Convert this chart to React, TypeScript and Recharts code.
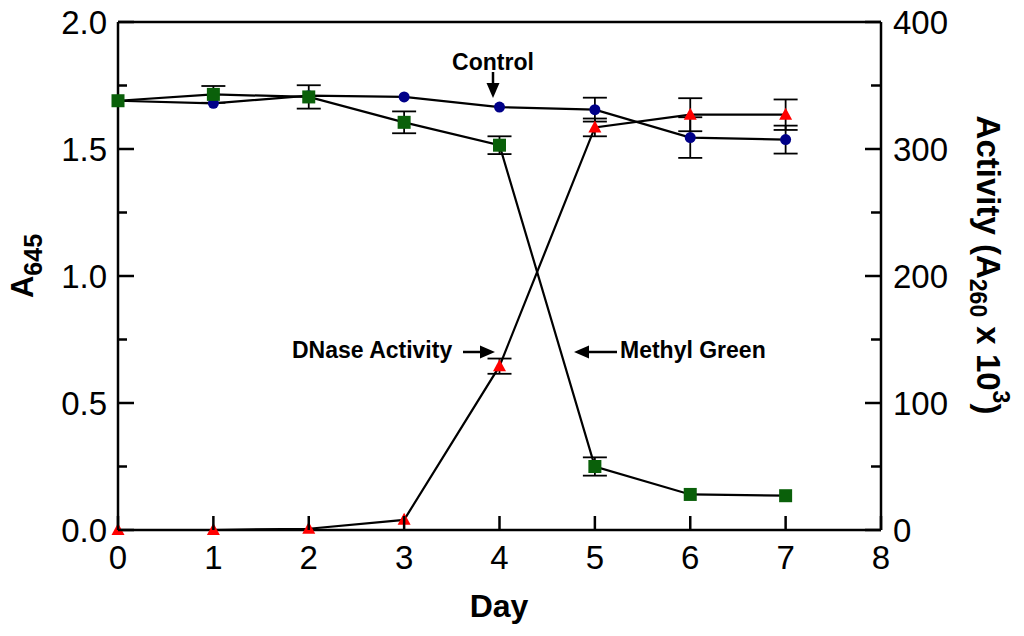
import React from 'react';
import { ComposedChart, Line, XAxis, YAxis, ErrorBar, ReferenceLine } from 'recharts';

// values
const days = [0, 1, 2, 3, 4, 5, 6, 7];
const controlA645 = [1.69, 1.68, 1.71, 1.705, 1.665, 1.655, 1.545, 1.537];
const controlErr = [0, 0, 0, 0, 0, 0.047, 0.08, 0.055];
const methylGreenA645 = [1.69, 1.715, 1.705, 1.605, 1.515, 0.25, 0.14, 0.135];
const methylGreenErr = [0, 0.033, 0.046, 0.043, 0.035, 0.036, 0, 0];
const dnaseActivity = [0, 0, 1, 8, 129, 317, 327, 327];
const dnaseErr = [0, 0, 0, 0, 6, 7, 13, 12];

const dayTicks = [0, 1, 2, 3, 4, 5, 6, 7, 8];
const leftTicks = [0, 0.25, 0.5, 0.75, 1, 1.25, 1.5, 1.75, 2];
const rightTicks = [0, 50, 100, 150, 200, 250, 300, 350, 400];

const data = days.map((day, i) => ({
  day,
  control: controlA645[i],
  controlErr: controlErr[i],
  methylGreen: methylGreenA645[i],
  methylGreenErr: methylGreenErr[i],
  dnase: dnaseActivity[i],
  dnaseErr: dnaseErr[i],
}));

const FONT = '"Liberation Sans", Arial, sans-serif';
const AXIS_W = 2.5;

const LeftTick = (props: any) => {
  const { x, y, payload } = props;
  const v = payload.value;
  const major = Math.abs(v * 2 - Math.round(v * 2)) < 1e-6;
  return (
    <g>
      <line x1={x} x2={x + (major ? 16 : 9)} y1={y} y2={y} stroke="#000" strokeWidth={AXIS_W} />
      {major && (
        <text x={x - 11} y={y} dy="0.36em" textAnchor="end" fontFamily={FONT} fontSize={33} fill="#000">
          {v.toFixed(1)}
        </text>
      )}
    </g>
  );
};

const RightTick = (props: any) => {
  const { x, y, payload } = props;
  const v = payload.value;
  const major = v % 100 === 0;
  return (
    <g>
      <line x1={x} x2={x - (major ? 16 : 10)} y1={y} y2={y} stroke="#000" strokeWidth={AXIS_W} />
      {major && (
        <text x={x + 12} y={y} dy="0.36em" textAnchor="start" fontFamily={FONT} fontSize={33} fill="#000">
          {v}
        </text>
      )}
    </g>
  );
};

const DayTick = (props: any) => {
  const { x, y, payload } = props;
  return (
    <g>
      <line x1={x} x2={x} y1={y} y2={y - 14} stroke="#000" strokeWidth={AXIS_W} />
      <text x={x} y={y + 39} textAnchor="middle" fontFamily={FONT} fontSize={33} fill="#000">
        {payload.value}
      </text>
    </g>
  );
};

const circleDot = (p: any) => <circle key={`c${p.index}`} cx={p.cx} cy={p.cy} r={5.5} fill="#000088" />;
const squareDot = (p: any) => (
  <rect key={`s${p.index}`} x={p.cx - 6.5} y={p.cy - 6.5} width={13} height={13} fill="#0a600a" />
);
const triangleDot = (p: any) => (
  <polygon
    key={`t${p.index}`}
    points={`${p.cx},${p.cy - 7} ${p.cx - 6.5},${p.cy + 5} ${p.cx + 6.5},${p.cy + 5}`}
    fill="#ff0000"
  />
);

function Arrow({ x1, y1, x2, y2 }: { x1: number; y1: number; x2: number; y2: number }) {
  const len = Math.hypot(x2 - x1, y2 - y1);
  const ux = (x2 - x1) / len;
  const uy = (y2 - y1) / len;
  const hl = 15;
  const hw = 6.5;
  const bx = x2 - ux * hl;
  const by = y2 - uy * hl;
  return (
    <g>
      <line x1={x1} y1={y1} x2={bx} y2={by} stroke="#000" strokeWidth={2.5} />
      <polygon
        points={`${x2},${y2} ${bx - uy * hw},${by + ux * hw} ${bx + uy * hw},${by - ux * hw}`}
        fill="#000"
      />
    </g>
  );
}

export default function App() {
  return (
    <div style={{ position: 'absolute', left: 0, top: 0, width: 1024, height: 636, background: '#fff' }}>
      <ComposedChart width={1024} height={636} data={data} margin={{ top: 22, right: 0, left: 0, bottom: 0 }}>
        <XAxis
          dataKey="day"
          type="number"
          domain={[0, 8]}
          ticks={dayTicks}
          interval={0}
          height={106}
          tickSize={0}
          tickMargin={0}
          tickLine={false}
          axisLine={{ stroke: '#000', strokeWidth: AXIS_W }}
          tick={<DayTick />}
        />
        <YAxis
          yAxisId="left"
          domain={[0, 2]}
          ticks={leftTicks}
          interval={0}
          width={118}
          tickSize={0}
          tickMargin={0}
          tickLine={false}
          axisLine={{ stroke: '#000', strokeWidth: AXIS_W }}
          tick={<LeftTick />}
        />
        <YAxis
          yAxisId="right"
          orientation="right"
          domain={[0, 400]}
          ticks={rightTicks}
          interval={0}
          width={143}
          tickSize={0}
          tickMargin={0}
          tickLine={false}
          axisLine={{ stroke: '#000', strokeWidth: AXIS_W }}
          tick={<RightTick />}
        />
        <ReferenceLine yAxisId="left" y={2} stroke="#000" strokeWidth={AXIS_W} />
        <Line
          yAxisId="left"
          type="linear"
          dataKey="control"
          stroke="#000"
          strokeWidth={2.2}
          dot={circleDot}
          activeDot={false}
          isAnimationActive={false}
        >
          <ErrorBar dataKey="controlErr" width={12} stroke="#000" strokeWidth={1.8} isAnimationActive={false} />
        </Line>
        <Line
          yAxisId="left"
          type="linear"
          dataKey="methylGreen"
          stroke="#000"
          strokeWidth={2.2}
          dot={squareDot}
          activeDot={false}
          isAnimationActive={false}
        >
          <ErrorBar dataKey="methylGreenErr" width={12} stroke="#000" strokeWidth={1.8} isAnimationActive={false} />
        </Line>
        <Line
          yAxisId="right"
          type="linear"
          dataKey="dnase"
          stroke="#000"
          strokeWidth={2.2}
          dot={triangleDot}
          activeDot={false}
          isAnimationActive={false}
        >
          <ErrorBar dataKey="dnaseErr" width={12} stroke="#000" strokeWidth={1.8} isAnimationActive={false} />
        </Line>
      </ComposedChart>
      <svg
        width={1024}
        height={636}
        style={{ position: 'absolute', left: 0, top: 0, pointerEvents: 'none' }}
        fontFamily={FONT}
      >
        <text x={33} y={266} transform="rotate(-90 33 266)" textAnchor="middle" fontSize={31} fontWeight="bold">
          A<tspan dy={9} fontSize={25}>645</tspan>
        </text>
        <text x={977} y={265} transform="rotate(90 977 265)" textAnchor="middle" fontSize={33} fontWeight="bold">
          Activity (A<tspan dy={7} fontSize={23}>260</tspan>
          <tspan dy={-7}> x 10</tspan>
          <tspan dy={-16} fontSize={23}>3</tspan>
          <tspan dy={16}>)</tspan>
        </text>
        <text x={499} y={617} textAnchor="middle" fontSize={32} fontWeight="bold">
          Day
        </text>
        <text x={493} y={70} textAnchor="middle" fontSize={23} fontWeight="bold">
          Control
        </text>
        <Arrow x1={493} y1={72} x2={493} y2={98} />
        <text x={292} y={358} textAnchor="start" fontSize={23} fontWeight="bold">
          DNase Activity
        </text>
        <Arrow x1={463} y1={352} x2={495} y2={352} />
        <text x={620} y={358} textAnchor="start" fontSize={23} fontWeight="bold">
          Methyl Green
        </text>
        <Arrow x1={617} y1={352} x2={574} y2={352} />
      </svg>
    </div>
  );
}
